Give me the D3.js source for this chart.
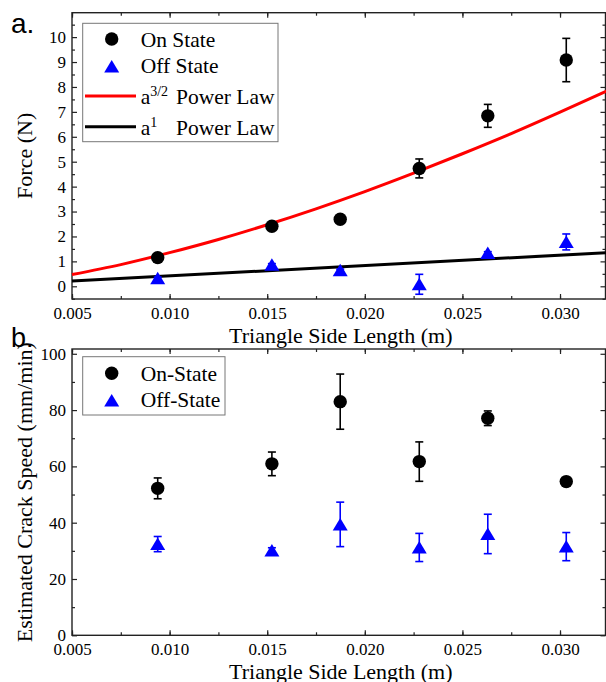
<!DOCTYPE html>
<html>
<head>
<meta charset="utf-8">
<script src="https://cdn.jsdelivr.net/npm/d3@7"></script>
<style>
  body { margin: 0; background: #fff; }
  svg text { font-family: "Liberation Serif", "Times New Roman", serif; fill: #000; }
  .tick line { stroke: #222; }
</style>
</head>
<body>
<div id="chart"></div>
<script>
// side length of the triangles (m)
const sideLength = [0.00939, 0.01524, 0.01874, 0.02279, 0.0263, 0.03032];

// panel a: force (N)
const forceOn = [1.15, 2.41, 2.69, 4.73, 6.84, 9.08];
const forceOnErr = [0.1, 0.1, 0.1, 0.38, 0.46, 0.87];
const forceOff = [0.32, 0.86, 0.64, 0.08, 1.34, 1.78];
const forceOffErr = [0.05, 0.05, 0.05, 0.4, 0.05, 0.32];

// power law curves
const curveX = [0.005, 0.0075, 0.010, 0.0125, 0.015, 0.0175, 0.020, 0.0225, 0.025, 0.0275, 0.030, 0.0324];
const power32 = [0.47, 0.87, 1.35, 1.88, 2.47, 3.11, 3.80, 4.54, 5.32, 6.13, 6.99, 7.84];
const lineX = [0.005, 0.0324];
const power1 = [0.21, 1.35];

// panel b: estimated crack speed (mm/min)
const speedOn = [52.2, 60.9, 83.0, 61.7, 77.1, 54.6];
const speedOnErr = [3.7, 4.2, 9.8, 7.0, 2.6, 1.0];
const speedOff = [32.4, 30.1, 39.4, 31.2, 36.0, 31.5];
const speedOffErr = [2.7, 1.0, 7.9, 5.0, 7.0, 5.0];

const xTicks = [0.005, 0.010, 0.015, 0.020, 0.025, 0.030];
const forceTicks = [0, 1, 2, 3, 4, 5, 6, 7, 8, 9, 10];
const speedTicks = [0, 20, 40, 60, 80, 100];

const width = 606, height = 682;
const svg = d3.select('#chart').append('svg')
    .attr('width', width)
    .attr('height', height);

const left = 72, right = 605.5;
const x = d3.scaleLinear().domain([0.005, 0.03233]).range([left, right]);
const yA = d3.scaleLinear().domain([-0.51, 10.98]).range([299, 12.7]);
const yB = d3.scaleLinear().domain([0, 101.7]).range([635.3, 349]);

const xMinor = d3.range(0.0025, 0.0330, 0.0025).filter(v => v > 0.005 - 1e-9 && v < 0.03233);

function drawPanel(y, yMajor, yMinor, top, bottom) {
    let g = svg.append('g');
    // minor ticks first
    g.append('g').attr('transform', `translate(0,${bottom})`)
        .call(d3.axisBottom(x).tickValues(xMinor).tickSize(-3).tickFormat(''));
    g.append('g').attr('transform', `translate(0,${top})`)
        .call(d3.axisTop(x).tickValues(xMinor).tickSize(-3).tickFormat(''));
    g.append('g').attr('transform', `translate(${left},0)`)
        .call(d3.axisLeft(y).tickValues(yMinor).tickSize(-3).tickFormat(''));
    g.append('g').attr('transform', `translate(${right},0)`)
        .call(d3.axisRight(y).tickValues(yMinor).tickSize(-3).tickFormat(''));
    // major ticks
    g.append('g').attr('transform', `translate(0,${bottom})`)
        .call(d3.axisBottom(x).tickValues(xTicks).tickSize(-5).tickPadding(7.5).tickFormat(d3.format('.3f')));
    g.append('g').attr('transform', `translate(0,${top})`)
        .call(d3.axisTop(x).tickValues(xTicks).tickSize(-5).tickFormat(''));
    g.append('g').attr('transform', `translate(${left},0)`)
        .call(d3.axisLeft(y).tickValues(yMajor).tickSize(-5).tickPadding(6));
    g.append('g').attr('transform', `translate(${right},0)`)
        .call(d3.axisRight(y).tickValues(yMajor).tickSize(-5).tickFormat(''));

    g.selectAll('.domain').remove();
    g.selectAll('.tick line').attr('stroke-width', 1.2);
    g.selectAll('.tick text')
        .style('font-family', '"Liberation Serif", serif')
        .style('font-size', '17px')
        .attr('fill', '#000');

    g.append('rect')
        .attr('x', left).attr('y', top)
        .attr('width', right - left).attr('height', bottom - top)
        .attr('fill', 'none').attr('stroke', '#222').attr('stroke-width', 1.4);
    return g;
}

function errorBars(g, ys, errs, y, color) {
    let bars = g.append('g').attr('stroke', color).attr('stroke-width', 1.6);
    sideLength.forEach((xv, i) => {
        let px = x(xv);
        let y1 = y(ys[i] + errs[i]), y2 = y(ys[i] - errs[i]);
        bars.append('line').attr('x1', px).attr('x2', px).attr('y1', y1).attr('y2', y2);
        bars.append('line').attr('x1', px - 4).attr('x2', px + 4).attr('y1', y1).attr('y2', y1);
        bars.append('line').attr('x1', px - 4).attr('x2', px + 4).attr('y1', y2).attr('y2', y2);
    });
}

const triangle = 'M0,-6.5L7.5,6L-7.5,6Z';

function circles(g, ys, y) {
    g.append('g').selectAll('circle')
        .data(ys)
        .join('circle')
        .attr('cx', (d, i) => x(sideLength[i]))
        .attr('cy', d => y(d))
        .attr('r', 6.7)
        .attr('fill', '#000');
}

function triangles(g, ys, y) {
    g.append('g').selectAll('path')
        .data(ys)
        .join('path')
        .attr('d', triangle)
        .attr('transform', (d, i) => `translate(${x(sideLength[i])},${y(d)})`)
        .attr('fill', '#0000ff');
}

// ---------- panel a ----------
let gA = drawPanel(yA, forceTicks, d3.range(-0.5, 11, 0.5).filter(v => v % 1 !== 0), 12.7, 299);

let lineGen = d3.line().x(d => x(d[0])).y(d => yA(d[1])).curve(d3.curveMonotoneX);
gA.append('path')
    .datum(curveX.map((v, i) => [v, power32[i]]))
    .attr('d', lineGen)
    .attr('fill', 'none').attr('stroke', '#ff0000').attr('stroke-width', 3);
gA.append('path')
    .datum(lineX.map((v, i) => [v, power1[i]]))
    .attr('d', lineGen)
    .attr('fill', 'none').attr('stroke', '#000').attr('stroke-width', 3);

errorBars(gA, forceOn, forceOnErr, yA, '#000');
circles(gA, forceOn, yA);
errorBars(gA, forceOff, forceOffErr, yA, '#0000ff');
triangles(gA, forceOff, yA);

// legend a
let legA = svg.append('g');
legA.append('rect').attr('x', 82.7).attr('y', 23.3).attr('width', 195.3).attr('height', 118.4)
    .attr('fill', '#fff').attr('stroke', '#777').attr('stroke-width', 1);
legA.append('circle').attr('cx', 111.7).attr('cy', 39).attr('r', 6.7).attr('fill', '#000');
legA.append('path').attr('d', triangle).attr('transform', 'translate(111.7,66.5)').attr('fill', '#0000ff');
legA.append('line').attr('x1', 85).attr('x2', 136).attr('y1', 96).attr('y2', 96)
    .attr('stroke', '#ff0000').attr('stroke-width', 3);
legA.append('line').attr('x1', 85).attr('x2', 136).attr('y1', 126.7).attr('y2', 126.7)
    .attr('stroke', '#000').attr('stroke-width', 3);
legA.append('text').attr('x', 140.7).attr('y', 46.5).style('font-size', '21.5px').text('On State');
legA.append('text').attr('x', 140.7).attr('y', 73.3).style('font-size', '21.5px').text('Off State');
let t1 = legA.append('text').attr('x', 140.7).attr('y', 104).style('font-size', '21.5px');
t1.append('tspan').text('a');
t1.append('tspan').attr('dy', -8).style('font-size', '14px').text('3/2');
legA.append('text').attr('x', 176).attr('y', 104).style('font-size', '21.5px').text('Power Law');
let t2 = legA.append('text').attr('x', 140.7).attr('y', 135).style('font-size', '21.5px');
t2.append('tspan').text('a');
t2.append('tspan').attr('dy', -8).style('font-size', '14px').text('1');
legA.append('text').attr('x', 176).attr('y', 135).style('font-size', '21.5px').text('Power Law');

// axis titles a
svg.append('text').attr('x', (left + right) / 2 + 2).attr('y', 342.5)
    .attr('text-anchor', 'middle').style('font-size', '22px').text('Triangle Side Length (m)');
svg.append('text').attr('transform', `translate(32,${(12.7 + 299) / 2}) rotate(-90)`)
    .attr('text-anchor', 'middle').style('font-size', '22px').text('Force (N)');

// ---------- panel b ----------
let gB = drawPanel(yB, speedTicks, [10, 30, 50, 70, 90], 349, 635.3);

errorBars(gB, speedOn, speedOnErr, yB, '#000');
circles(gB, speedOn, yB);
errorBars(gB, speedOff, speedOffErr, yB, '#0000ff');
triangles(gB, speedOff, yB);

let legB = svg.append('g');
legB.append('rect').attr('x', 82.7).attr('y', 356.7).attr('width', 142.3).attr('height', 58.3)
    .attr('fill', '#fff').attr('stroke', '#777').attr('stroke-width', 1);
legB.append('circle').attr('cx', 111.7).attr('cy', 373.3).attr('r', 6.7).attr('fill', '#000');
legB.append('path').attr('d', triangle).attr('transform', 'translate(111.7,400.5)').attr('fill', '#0000ff');
legB.append('text').attr('x', 140.7).attr('y', 380.5).style('font-size', '21.5px').text('On-State');
legB.append('text').attr('x', 140.7).attr('y', 407.3).style('font-size', '21.5px').text('Off-State');

svg.append('text').attr('x', (left + right) / 2 + 2).attr('y', 678.5)
    .attr('text-anchor', 'middle').style('font-size', '22px').text('Triangle Side Length (m)');
svg.append('text').attr('transform', `translate(32,${(349 + 635.3) / 2}) rotate(-90)`)
    .attr('text-anchor', 'middle').style('font-size', '22px').text('Estimated Crack Speed (mm/min)');

// panel letters
svg.append('text').attr('x', 11).attr('y', 33).style('font-family', '"Liberation Sans", Arial, sans-serif')
    .style('font-size', '28px').text('a.');
svg.append('text').attr('x', 11).attr('y', 346.5).style('font-family', '"Liberation Sans", Arial, sans-serif')
    .style('font-size', '27px').text('b.');
</script>
</body>
</html>
